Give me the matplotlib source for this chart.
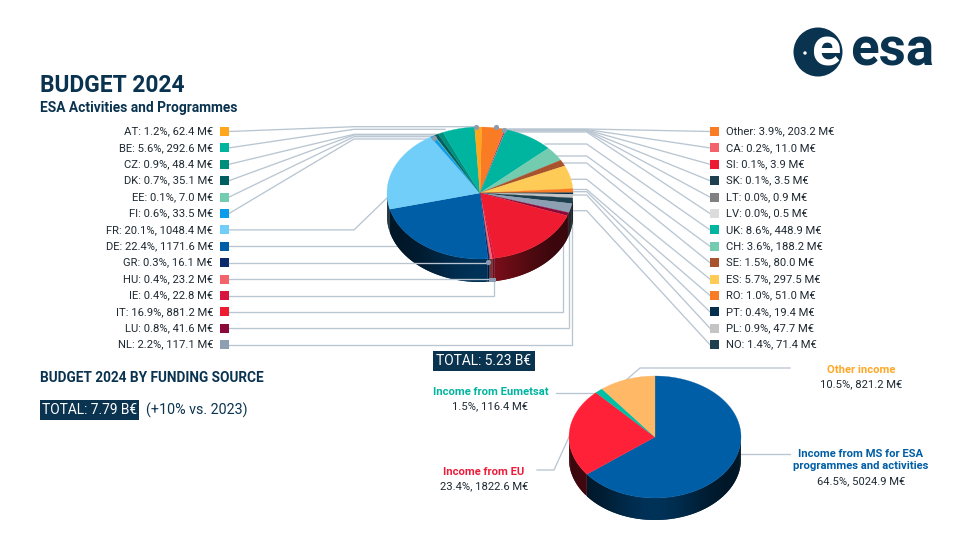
# ESA budget 2024 infographic, two fake 3D pies drawn in pixel coordinates
from matplotlib import pyplot as plt
from matplotlib.patches import Circle, Polygon, Rectangle
import numpy as np

plt.rcParams['font.family'] = ['Roboto', 'DejaVu Sans']

dark = '#0A3350'
text_col = '#1F2A33'
line_col = '#B9C6D2'
dot_col = '#8A9DB0'

# left column, top to bottom
left_codes = ['AT', 'BE', 'CZ', 'DK', 'EE', 'FI', 'FR', 'DE', 'GR', 'HU', 'IE', 'IT', 'LU', 'NL']
left_pct = [1.2, 5.6, 0.9, 0.7, 0.1, 0.6, 20.1, 22.4, 0.3, 0.4, 0.4, 16.9, 0.8, 2.2]
left_vals = [62.4, 292.6, 48.4, 35.1, 7.0, 33.5, 1048.4, 1171.6, 16.1, 23.2, 22.8, 881.2, 41.6, 117.1]
left_cols = ['#FFA61C', '#00B5A0', '#008E7C', '#005F5E', '#74CCB0', '#0A9BEA', '#70CEF9',
             '#005EA6', '#0A2A6B', '#F4636B', '#D6163F', '#EF1C31', '#8C0A38', '#8D9FB2']

# right column, top to bottom
right_codes = ['Other', 'CA', 'SI', 'SK', 'LT', 'LV', 'UK', 'CH', 'SE', 'ES', 'RO', 'PT', 'PL', 'NO']
right_pct = [3.9, 0.2, 0.1, 0.1, 0.0, 0.0, 8.6, 3.6, 1.5, 5.7, 1.0, 0.4, 0.9, 1.4]
right_vals = [203.2, 11.0, 3.9, 3.5, 0.9, 0.5, 448.9, 188.2, 80.0, 297.5, 51.0, 19.4, 47.7, 71.4]
right_cols = ['#F97B24', '#F4636B', '#EE1C33', '#1E3F4D', '#808080', '#DCDCDC', '#00B5A0',
              '#73CBB0', '#A8532D', '#FFCB57', '#F97B24', '#05304D', '#C4C4C4', '#1E3F4D']

# funding pie, clockwise from the top
fund_names = ['Income from MS for ESA\nprogrammes and activities', 'Income from EU',
              'Income from Eumetsat', 'Other income']
fund_pct = [64.5, 23.4, 1.5, 10.5]
fund_vals = [5024.9, 1822.6, 116.4, 821.2]
fund_cols = ['#005EA6', '#FF2138', '#00BFA5', '#FFB866']
fund_text_cols = ['#005EA6', '#EE1C3B', '#00B5A0', '#FFA726']


def txt(x, y, s, px, color=text_col, ha='left', weight='normal', zorder=6):
    ax.text(x, y, s, fontsize=px*0.72, color=color, ha=ha, va='center', weight=weight,
            zorder=zorder, linespacing=1.3)


def shade(col, theta):
    # side of the pie is dark, a bit lighter toward the two edges
    rgb = np.array(plt.matplotlib.colors.to_rgb(col))
    f = 0.24 + 0.28*abs(np.cos(theta))**6
    return tuple(rgb*f)


def pie3d(cx, cy, rx, ry, depth, vals, cols, start=0.0):
    vals = np.array(vals, dtype=float)
    edges = start + np.concatenate(([0], np.cumsum(vals)))/vals.sum()*360
    # side band first, each strip runs on under the next one so no seams show
    for i in range(len(vals)):
        a0 = max(edges[i], 90)
        a1 = min(edges[i+1], 270)
        if a1 <= a0:
            continue
        left = a0
        while left < a1:
            t = np.radians(np.linspace(left, min(left + 3.0, a1), 5))
            xs = cx + rx*np.sin(t)
            ys = cy - ry*np.cos(t)
            pts = np.vstack([np.column_stack([xs, ys]), np.column_stack([xs, ys + depth])[::-1]])
            ax.add_patch(Polygon(pts, closed=True, fc=shade(cols[i], t[0]), ec='none', zorder=3))
            left += 1.5
    # top face
    for i in range(len(vals)):
        n = max(int((edges[i+1]-edges[i])/1.0), 2)
        t = np.radians(np.linspace(edges[i], edges[i+1], n))
        xs = np.concatenate(([cx], cx + rx*np.sin(t)))
        ys = np.concatenate(([cy], cy - ry*np.cos(t)))
        ax.add_patch(Polygon(np.column_stack([xs, ys]), closed=True, fc=cols[i], ec=cols[i],
                             lw=0.2, zorder=4))


def leader(xs, ys, zorder=2):
    ax.plot(xs, ys, color=line_col, lw=0.95, zorder=zorder, solid_joinstyle='miter')


fig = plt.figure(figsize=(9.6, 5.4), dpi=100)
ax = fig.add_axes([0, 0, 1, 1])
ax.set_xlim(0, 960)
ax.set_ylim(540, 0)
ax.axis('off')

# headings
txt(39.5, 86, 'BUDGET 2024', 22.7, dark, weight='bold')
txt(39.5, 108, 'ESA Activities and Programmes', 13.8, dark, weight='bold')
txt(39.5, 378, 'BUDGET 2024 BY FUNDING SOURCE', 13.6, dark, weight='bold')

# total boxes
ax.add_patch(Rectangle((40, 400), 99, 20, fc=dark, ec='none', zorder=5))
txt(89.5, 410, 'TOTAL: 7.79 B€', 13.8, 'white', ha='center')
txt(146, 410, '(+10% vs. 2023)', 14.2, dark)
ax.add_patch(Rectangle((432.5, 351), 102, 20, fc=dark, ec='none', zorder=5))
txt(483.5, 361, 'TOTAL: 5.23 B€', 13.8, 'white', ha='center')

# rows of the main pie
row_y = 131.5 + np.arange(14)*16.4
for i in range(14):
    txt(213, row_y[i], f'{left_codes[i]}: {left_pct[i]:.1f}%, {left_vals[i]:.1f} M€', 11.2, ha='right')
    ax.add_patch(Rectangle((219.5, row_y[i]-4.5), 9, 9, fc=left_cols[i], ec='none', zorder=5))
    txt(726, row_y[i], f'{right_codes[i]}: {right_pct[i]:.1f}%, {right_vals[i]:.1f} M€', 11.2)
    ax.add_patch(Rectangle((710, row_y[i]-4.5), 9, 9, fc=right_cols[i], ec='none', zorder=5))

# leader lines, left side: elbow height then where it ends on the pie
left_elbow = [126.7, 129.3, 134.3, 135, 136.7, 139]
left_end = [476, 445, 438, 436, 435, 434]
for i in range(6):
    leader([229, 354, left_end[i]], [row_y[i], left_elbow[i], left_elbow[i]])
leader([229, 354, 388], [row_y[6], row_y[6], 197])
leader([229, 400], [row_y[7], row_y[7]])
leader([229, 488], [row_y[8], row_y[8]], zorder=5)
leader([229, 492], [row_y[9], row_y[9]], zorder=5)
leader([229, 494, 494], [row_y[10], row_y[10], 279.5], zorder=2)
leader([229, 563.3, 563.3], [row_y[11], row_y[11], 240])
leader([229, 569.3, 569.3], [row_y[12], row_y[12], 230])
leader([229, 572.3, 572.3], [row_y[13], row_y[13], 205])

# leader lines, right side
right_elbow = [129, 129.5, 130, 130.5, 131, 132, 144, 156, 163, 179.3, 189.5, 191.7, 195, 210.7]
right_end = [496, 504, 504, 504, 504, 504, 545, 555, 562, 570, 572, 572, 572, 560]
for i in range(14):
    leader([710, 586.7, right_end[i]], [row_y[i], right_elbow[i], right_elbow[i]])

# main pie goes clockwise from Other round to AT
main_vals = right_vals + left_vals[::-1]
main_cols = right_cols + left_cols[::-1]
pie3d(480, 193, 93, 66, 23, main_vals, main_cols, start=1.0)

dot_x = [476, 496, 504, 434, 488]
dot_y = [127, 127, 130, 138, 262]
ax.scatter(dot_x, dot_y, s=14, color=dot_col, linewidths=0, zorder=6)
ax.add_patch(Rectangle((489, 277.5), 7, 4, fc=dot_col, ec='none', zorder=6))

# funding pie and its labels
leader([625, 640, 790], [381, 368, 368])
leader([556, 597], [392.7, 392.7])
leader([537, 554, 569], [470, 470, 437])
leader([741, 790], [454, 454])
pie3d(655, 437, 86, 61, 22, fund_vals, fund_cols)

txt(861, 460, fund_names[0], 11.3, fund_text_cols[0], ha='center', weight='bold')
txt(861, 481, f'{fund_pct[0]}%, {fund_vals[0]} M€', 11.3, ha='center')
txt(484, 472, fund_names[1], 11.3, fund_text_cols[1], ha='center', weight='bold')
txt(484, 486, f'{fund_pct[1]}%, {fund_vals[1]} M€', 11.3, ha='center')
txt(490.5, 392, fund_names[2], 11.3, fund_text_cols[2], ha='center', weight='bold')
txt(490.5, 406.7, f'{fund_pct[2]}%, {fund_vals[2]} M€', 11.3, ha='center')
txt(861, 370, fund_names[3], 11.3, fund_text_cols[3], ha='center', weight='bold')
txt(861, 384, f'{fund_pct[3]}%, {fund_vals[3]} M€', 11.3, ha='center')

# logo
ax.add_patch(Circle((818, 52), 24.5, fc=dark, ec='none', zorder=5))
ax.add_patch(Circle((805, 53), 1.7, fc='white', ec='none', zorder=6))
ax.text(826, 50.5, 'e', fontsize=39, color='white', ha='center', va='center', weight='bold', zorder=6)
ax.text(892, 50.5, 'esa', fontsize=38, color=dark, ha='center', va='center', weight='bold', zorder=6)

fig.savefig('out.png', dpi=100)
